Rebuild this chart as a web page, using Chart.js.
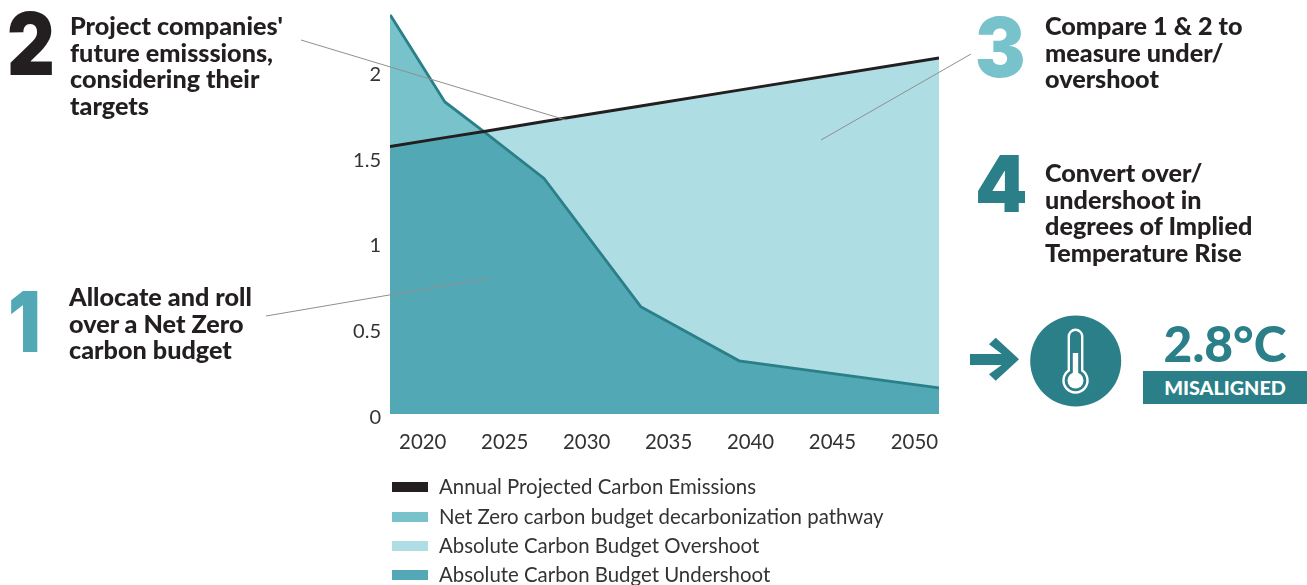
<!DOCTYPE html>
<html>
<head>
<meta charset="utf-8">
<script src="https://cdn.jsdelivr.net/npm/chart.js@4"></script>
<style>
  html, body { margin: 0; padding: 0; background: #fff; overflow: hidden; }
  #page { position: relative; width: 1307px; height: 585px; font-family: Lato, sans-serif; color: #231f20; }
  canvas { position: absolute; left: 0; top: 0; }
  svg { position: absolute; left: 0; top: 0; }
  .step { position: absolute; font-weight: 900; font-size: 25.2px; line-height: 26.6px; white-space: nowrap; }
  .num { position: absolute; font-family: Inter, sans-serif; font-weight: 900; line-height: 88px; transform-origin: left top; }
  .legend-row { position: absolute; left: 392px; height: 20px; }
  .legend-row i { position: absolute; left: 0; top: 5px; width: 36px; height: 10px; }
  .legend-row span { position: absolute; left: 47px; top: -3px; font-size: 20.4px; line-height: 24px; white-space: nowrap; color: #333; }
  #temp { position: absolute; left: 1143px; width: 164px; top: 315px; text-align: center; font-weight: 900; font-size: 49.7px; line-height: 56px; color: #2a7f88; }
  #badge { position: absolute; left: 1143px; top: 371px; width: 164px; height: 33px; line-height: 33px; background: #2a7f88; color: #fff; text-align: center; font-weight: 900; font-size: 19.8px; }
</style>
</head>
<body>
<div id="page">
  <canvas id="grafico" width="1307" height="585"></canvas>

  <svg width="1307" height="585">
    <g stroke="#8f8f8f" stroke-width="1" fill="none">
      <line x1="301" y1="40" x2="566" y2="120"/>
      <line x1="971" y1="54" x2="821" y2="140"/>
      <line x1="266" y1="316" x2="489" y2="278"/>
    </g>
    <polygon fill="#2a7f88" points="970,354 1001.7,354 989,344.3 995.7,337.7 1019,359.3 995.7,380.7 989,374.3 1001.7,365 970,365"/>
    <circle cx="1075.7" cy="361" r="45.5" fill="#2a7f88"/>
    <path fill="none" stroke="#fff" stroke-width="2.4" d="M1068.8 370.5 V336.5 a6.7 6.7 0 0 1 13.4 0 V370.5 a12 12 0 1 1 -13.4 0 Z"/>
    <rect x="1072.8" y="353" width="5.4" height="24" fill="#fff"/>
    <circle cx="1075.5" cy="380.5" r="8" fill="#fff"/>
  </svg>

  <div class="num" style="left:7px;top:0px;font-size:86px;color:#231f20;transform:scaleX(.86)">2</div>
  <div class="step" style="left:70px;top:12px">Project companies'<br>future emisssions,<br>considering their<br>targets</div>

  <div class="num" style="left:975px;top:4px;font-size:82px;color:#78c3cb;transform:scaleX(.92)">3</div>
  <div class="step" style="left:1045px;top:12px">Compare 1 &amp; 2 to<br>measure under/<br>overshoot</div>

  <div class="num" style="left:975px;top:140px;font-size:78px;color:#2a7f88;transform:scaleX(.96)">4</div>
  <div class="step" style="left:1045px;top:159px">Convert over/<br>undershoot in<br>degrees of Implied<br>Temperature Rise</div>

  <div class="num" style="left:8px;top:278px;font-size:84px;color:#52a9b5;transform:scaleX(.86)">1</div>
  <div class="step" style="left:69px;top:283px">Allocate and roll<br>over a Net Zero<br>carbon budget</div>

  <div id="temp">2.8°C</div>
  <div id="badge">MISALIGNED</div>

  <div id="legenda"></div>
</div>

<script>
// Valores (anos nos pontos de quebra da curva)
const anos = [2018, 2021.35, 2023.73, 2027.4, 2033.3, 2039.3, 2051.5];
const emissoes = [1.56, 1.612, 1.647, 1.706, 1.796, 1.889, 2.076];
const orcamento = [2.33, 1.82, 1.647, 1.374, 0.626, 0.31, 0.152];
const abaixo = [1.56, 1.612, 1.647, 1.374, 0.626, 0.31, 0.152];

const ticksX = [2020, 2025, 2030, 2035, 2040, 2045, 2050];
const ticksY = [0, 0.5, 1, 1.5, 2];

const nomes = [
    'Annual Projected Carbon Emissions',
    'Net Zero carbon budget decarbonization pathway',
    'Absolute Carbon Budget Overshoot',
    'Absolute Carbon Budget Undershoot'
];

const PRETO = '#231f20';
const NET_ZERO = '#78c3cb';
const OVERSHOOT = '#aedde3';
const UNDERSHOOT = '#52a9b5';
const TEAL = '#2a7f88';

const pontos = valores => anos.map((ano, i) => ({ x: ano, y: valores[i] }));

new Chart(document.getElementById('grafico').getContext('2d'), {
    type: 'line',
    data: {
        datasets: [
            { label: nomes[0], data: pontos(emissoes), borderColor: PRETO, borderWidth: 3, fill: false },
            { label: nomes[1], data: pontos(orcamento), borderColor: TEAL, borderWidth: 2.8, fill: { target: 0, above: NET_ZERO, below: 'transparent' } },
            { label: nomes[2], data: pontos(orcamento), borderWidth: 0, borderColor: 'transparent', fill: { target: 0, above: 'transparent', below: OVERSHOOT } },
            { label: nomes[3], data: pontos(abaixo), borderWidth: 0, borderColor: 'transparent', backgroundColor: UNDERSHOOT, fill: 'origin' }
        ]
    },
    options: {
        responsive: false,
        animation: false,
        devicePixelRatio: 1,
        elements: { point: { radius: 0 }, line: { tension: 0 } },
        layout: { padding: { top: 14.5, right: 368, left: 0, bottom: 0 } },
        plugins: { legend: { display: false }, tooltip: { enabled: false } },
        scales: {
            x: {
                type: 'linear',
                min: 2018,
                max: 2051.5,
                grid: { display: false },
                border: { display: false },
                afterBuildTicks: axis => { axis.ticks = ticksX.map(v => ({ value: v })); },
                afterFit: axis => { axis.height = 171; },
                ticks: {
                    autoSkip: false, maxRotation: 0, padding: 8, color: '#333',
                    font: { family: 'Lato', size: 20.4 },
                    callback: v => String(v)
                }
            },
            y: {
                min: 0,
                max: 2.33,
                grid: { display: false },
                border: { display: false },
                afterBuildTicks: axis => { axis.ticks = ticksY.map(v => ({ value: v })); },
                afterFit: axis => { axis.width = 390; },
                ticks: {
                    padding: 1, labelOffset: 3.5, color: '#333',
                    font: { family: 'Lato', size: 20 },
                    callback: v => String(v)
                }
            }
        }
    }
});

// Legenda em HTML, no mesmo lugar do original
const coresLegenda = [PRETO, NET_ZERO, OVERSHOOT, UNDERSHOOT];
const linhasLegenda = [477, 507, 536, 565];
const legenda = document.getElementById('legenda');
nomes.forEach((nome, i) => {
    const linha = document.createElement('div');
    linha.className = 'legend-row';
    linha.style.top = linhasLegenda[i] + 'px';
    linha.innerHTML = `<i style="background:${coresLegenda[i]}"></i><span>${nome}</span>`;
    legenda.appendChild(linha);
});
</script>
</body>
</html>
